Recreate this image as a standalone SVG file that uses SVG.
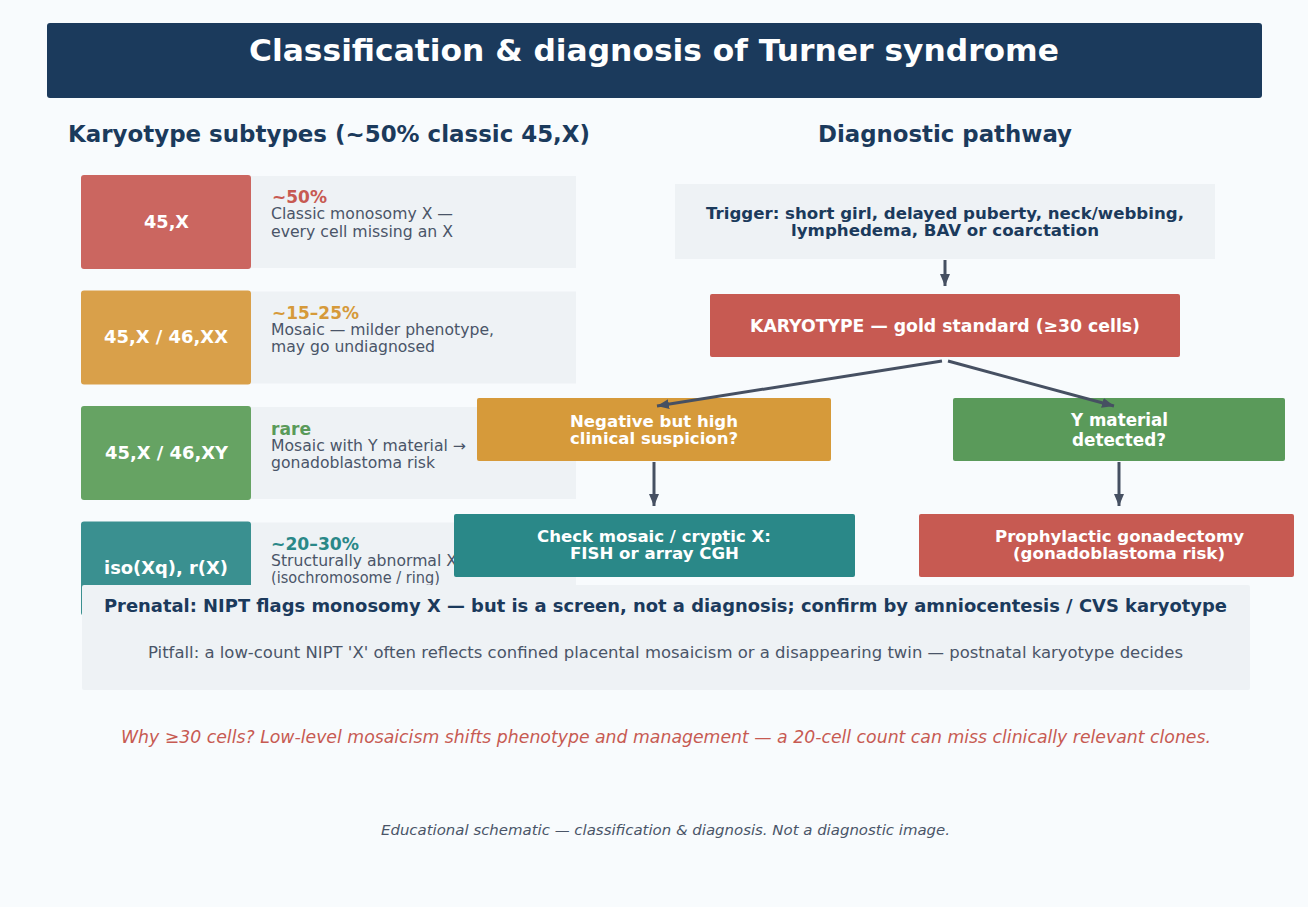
<svg xmlns="http://www.w3.org/2000/svg" width="1308" height="907" viewBox="0 0 1308 907">
<style>
text{font-family:"DejaVu Sans","Liberation Sans",sans-serif}
.b{font-weight:bold}
.w{fill:#ffffff;font-weight:bold}
.nav{fill:#1b3a5c;font-weight:bold}
.desc{fill:#4a5568;font-size:15px}
.pct{font-weight:bold;font-size:17px}
.lab{font-size:18px;text-anchor:middle}
.panel{fill:#eef2f5}
.c{text-anchor:middle}
.flow{font-size:15.5px}
.conn{stroke:#465062;stroke-width:3;fill:none}
</style>
<defs>
<marker id="ah" viewBox="0 0 12 10" refX="12" refY="5" markerWidth="12" markerHeight="10" markerUnits="userSpaceOnUse" orient="auto">
<path d="M0,0 L12,5 L0,10 Z" fill="#465062"/>
</marker>
</defs>
<rect width="1308" height="907" fill="#f8fbfd"/>
<g id="title">
<rect x="47" y="23" width="1215" height="75" rx="3" fill="#1b3a5c"/>
<text x="654" y="61" class="w c" font-size="31" textLength="810" lengthAdjust="spacingAndGlyphs">Classification &amp; diagnosis of Turner syndrome</text>
</g>
<g id="headings">
<text x="68" y="142" class="nav" font-size="23" textLength="522" lengthAdjust="spacingAndGlyphs">Karyotype subtypes (~50% classic 45,X)</text>
<text x="945" y="142" class="nav c" font-size="23" textLength="254" lengthAdjust="spacingAndGlyphs">Diagnostic pathway</text>
</g>
<g id="row1">
<rect x="251" y="176" width="325" height="92" class="panel"/>
<rect x="81" y="175" width="170" height="94" rx="3" fill="#cb6660"/>
<text x="166.5" y="228.3" class="w lab" textLength="45" lengthAdjust="spacingAndGlyphs">45,X</text>
<text x="272" y="203" class="pct" fill="#c75a52" textLength="55" lengthAdjust="spacingAndGlyphs">~50%</text>
<text x="271" y="219" class="desc" textLength="182" lengthAdjust="spacingAndGlyphs">Classic monosomy X —</text>
<text x="271" y="236.7" class="desc" textLength="182" lengthAdjust="spacingAndGlyphs">every cell missing an X</text>
</g>
<g id="row2">
<rect x="251" y="291.5" width="325" height="92" class="panel"/>
<rect x="81" y="290.5" width="170" height="94" rx="3" fill="#d9a04a"/>
<text x="166" y="343.3" class="w lab" textLength="124" lengthAdjust="spacingAndGlyphs">45,X / 46,XX</text>
<text x="272" y="319.3" class="pct" fill="#d69a3a" textLength="87" lengthAdjust="spacingAndGlyphs">~15–25%</text>
<text x="271" y="335" class="desc" textLength="223" lengthAdjust="spacingAndGlyphs">Mosaic — milder phenotype,</text>
<text x="271" y="351.7" class="desc" textLength="164" lengthAdjust="spacingAndGlyphs">may go undiagnosed</text>
</g>
<g id="row3">
<rect x="251" y="407" width="325" height="92" class="panel"/>
<rect x="81" y="406" width="170" height="94" rx="3" fill="#66a363"/>
<text x="166.5" y="459" class="w lab" textLength="123" lengthAdjust="spacingAndGlyphs">45,X / 46,XY</text>
<text x="271" y="435" class="pct" fill="#5a9a5a" textLength="40" lengthAdjust="spacingAndGlyphs">rare</text>
<text x="271" y="450.5" class="desc" textLength="195" lengthAdjust="spacingAndGlyphs">Mosaic with Y material →</text>
<text x="271" y="467.7" class="desc" textLength="164" lengthAdjust="spacingAndGlyphs">gonadoblastoma risk</text>
</g>
<g id="row4">
<rect x="251" y="522.5" width="325" height="92" class="panel"/>
<rect x="81" y="521.5" width="170" height="94" rx="3" fill="#3a9090"/>
<text x="166" y="574" class="w lab" textLength="124" lengthAdjust="spacingAndGlyphs">iso(Xq), r(X)</text>
<text x="271" y="550" class="pct" fill="#2a8888" textLength="88" lengthAdjust="spacingAndGlyphs">~20–30%</text>
<text x="271" y="566" class="desc" textLength="186" lengthAdjust="spacingAndGlyphs">Structurally abnormal X</text>
<text x="271" y="583" class="desc" textLength="169" lengthAdjust="spacingAndGlyphs">(isochromosome / ring)</text>
</g>
<g id="trigger">
<rect x="675" y="184" width="540" height="75" class="panel"/>
<text x="945" y="219" class="nav c flow" textLength="478" lengthAdjust="spacingAndGlyphs">Trigger: short girl, delayed puberty, neck/webbing,</text>
<text x="945" y="236" class="nav c flow" textLength="308" lengthAdjust="spacingAndGlyphs">lymphedema, BAV or coarctation</text>
</g>
<g id="karyotype">
<rect x="710" y="294" width="470" height="63" rx="2" fill="#c75a52"/>
<text x="945" y="332" class="w c" font-size="17.5" textLength="390" lengthAdjust="spacingAndGlyphs">KARYOTYPE — gold standard (≥30 cells)</text>
</g>
<g id="negative">
<rect x="477" y="398" width="354" height="63" rx="2" fill="#d69a3a"/>
<text x="654" y="427" class="w c flow" textLength="168" lengthAdjust="spacingAndGlyphs">Negative but high</text>
<text x="654" y="444" class="w c flow" textLength="168" lengthAdjust="spacingAndGlyphs">clinical suspicion?</text>
</g>
<g id="ymaterial">
<rect x="953" y="398" width="332" height="63" rx="2" fill="#5a9a5a"/>
<text x="1119.5" y="425.7" class="w c" font-size="17" textLength="97" lengthAdjust="spacingAndGlyphs">Y material</text>
<text x="1119" y="445.7" class="w c" font-size="17" textLength="94" lengthAdjust="spacingAndGlyphs">detected?</text>
</g>
<g id="check">
<rect x="454" y="514" width="401" height="63" rx="2" fill="#2a8888"/>
<text x="654" y="541.7" class="w c flow" textLength="234" lengthAdjust="spacingAndGlyphs">Check mosaic / cryptic X:</text>
<text x="654.5" y="558.5" class="w c flow" textLength="169" lengthAdjust="spacingAndGlyphs">FISH or array CGH</text>
</g>
<g id="gonadectomy">
<rect x="919" y="514" width="375" height="63" rx="2" fill="#c75a52"/>
<text x="1119.5" y="541.7" class="w c flow" textLength="249" lengthAdjust="spacingAndGlyphs">Prophylactic gonadectomy</text>
<text x="1119" y="558.5" class="w c flow" textLength="212" lengthAdjust="spacingAndGlyphs">(gonadoblastoma risk)</text>
</g>
<g id="connectors">
<line x1="945" y1="260" x2="945" y2="286" class="conn" marker-end="url(#ah)"/>
<line x1="942" y1="361" x2="657" y2="406" class="conn" marker-end="url(#ah)"/>
<line x1="948" y1="361" x2="1114" y2="406" class="conn" marker-end="url(#ah)"/>
<line x1="654" y1="462" x2="654" y2="506" class="conn" marker-end="url(#ah)"/>
<line x1="1119" y1="462" x2="1119" y2="506" class="conn" marker-end="url(#ah)"/>
</g>
<g id="prenatal">
<rect x="82" y="585" width="1168" height="105" rx="2" class="panel"/>
<text x="665.5" y="612.3" class="nav c" font-size="17" textLength="1123" lengthAdjust="spacingAndGlyphs">Prenatal: NIPT flags monosomy X — but is a screen, not a diagnosis; confirm by amniocentesis / CVS karyotype</text>
<text x="665.5" y="658" class="c" font-size="15.5" fill="#4a5568" textLength="1035" lengthAdjust="spacingAndGlyphs">Pitfall: a low-count NIPT 'X' often reflects confined placental mosaicism or a disappearing twin — postnatal karyotype decides</text>
</g>
<g id="notes">
<text x="666" y="743" class="c" font-size="17" font-style="italic" fill="#c75a52" textLength="1090" lengthAdjust="spacingAndGlyphs">Why ≥30 cells? Low-level mosaicism shifts phenotype and management — a 20-cell count can miss clinically relevant clones.</text>
<text x="665.5" y="835" class="c" font-size="14.5" font-style="italic" fill="#4a5568" textLength="569" lengthAdjust="spacingAndGlyphs">Educational schematic — classification &amp; diagnosis. Not a diagnostic image.</text>
</g>
</svg>
